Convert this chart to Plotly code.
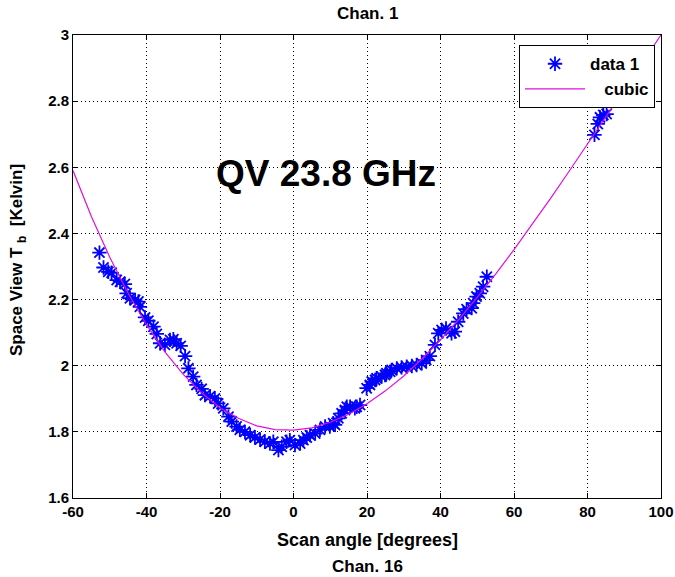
import plotly.graph_objects as go

# scanned data points (scan angle in degrees, brightness temperature in K)
data_x = [-52.8, -51.7, -50.4, -49.5, -48.1, -47.2, -45.9, -45.4, -44.5, -43.1, -42.2, -41.8,
          -40.4, -39.5, -38.1, -37.2, -36.3, -35.0, -33.6, -32.7, -31.8, -30.7, -29.5, -28.6,
          -27.3, -26.4, -25.0, -24.1, -22.7, -21.4, -20.5, -19.1, -17.7, -16.8, -15.5, -14.6,
          -13.2, -11.8, -10.5, -9.1, -7.8, -6.4, -5.5, -4.1, -3.2, -1.9, -1.0, 0.4, 1.8, 2.7,
          3.6, 4.5, 5.9, 7.2, 8.6, 9.9, 10.8, 11.3, 12.2, 13.1, 14.0, 14.5, 15.4, 16.7, 17.2,
          18.1, 19.9, 20.8, 21.3, 22.2, 22.6, 24.0, 24.9, 25.3, 26.3, 26.7, 28.1, 29.4, 30.8,
          32.2, 33.5, 34.9, 36.1, 37.1, 38.5, 39.4, 40.3, 41.5, 43.0, 43.9, 44.8, 46.2, 47.1,
          48.5, 48.9, 49.8, 50.7, 51.6, 52.6, 81.9, 82.8, 83.4, 84.3, 85.2]
data_y = [2.342, 2.297, 2.284, 2.281, 2.259, 2.254, 2.247, 2.219, 2.204, 2.199, 2.194, 2.178,
          2.146, 2.136, 2.118, 2.096, 2.068, 2.063, 2.078, 2.080, 2.068, 2.060, 2.029, 1.992,
          1.967, 1.942, 1.930, 1.911, 1.908, 1.901, 1.886, 1.871, 1.846, 1.831, 1.816, 1.806,
          1.800, 1.790, 1.783, 1.777, 1.770, 1.765, 1.770, 1.745, 1.755, 1.770, 1.775, 1.760,
          1.765, 1.775, 1.783, 1.790, 1.795, 1.806, 1.816, 1.816, 1.826, 1.821, 1.841, 1.856,
          1.866, 1.876, 1.876, 1.871, 1.876, 1.881, 1.932, 1.942, 1.952, 1.957, 1.962, 1.967,
          1.972, 1.977, 1.982, 1.987, 1.992, 1.995, 1.997, 1.999, 2.002, 2.007, 2.017, 2.029,
          2.063, 2.098, 2.108, 2.113, 2.098, 2.103, 2.133, 2.158, 2.171, 2.174, 2.189, 2.209,
          2.219, 2.239, 2.269, 2.698, 2.731, 2.751, 2.758, 2.761]

# cubic fit curve, every 5 degrees
cubic_x = [-60, -55, -50, -45, -40, -35, -30, -25, -20, -15, -10, -5, 0, 5, 10, 15, 20,
           25, 30, 35, 40, 45, 50, 55, 60, 65, 70, 75, 80, 85, 90, 95, 100]
cubic_y = [2.590, 2.451, 2.328, 2.219, 2.124, 2.042, 1.974, 1.918, 1.873, 1.841, 1.818,
           1.807, 1.805, 1.812, 1.829, 1.853, 1.885, 1.924, 1.969, 2.021, 2.078, 2.140,
           2.207, 2.277, 2.351, 2.428, 2.507, 2.588, 2.670, 2.753, 2.836, 2.919, 3.000]

x_ticks = [-60, -40, -20, 0, 20, 40, 60, 80, 100]
y_ticks = [1.6, 1.8, 2, 2.2, 2.4, 2.6, 2.8, 3]
y_tick_text = ["1.6", "1.8", "2", "2.2", "2.4", "2.6", "2.8", "3"]

FONT = "Liberation Sans, Arial, sans-serif"
NB = "\u00a0"

fig = go.Figure()
fig.add_trace(go.Scatter(
    x=data_x, y=data_y, mode="markers", name="data 1",
    marker=dict(symbol="asterisk-open", size=12, color="#0000FF",
                line=dict(color="#0000FF", width=1.8)),
))
fig.add_trace(go.Scatter(
    x=cubic_x, y=cubic_y, mode="lines", name=NB * 3 + "cubic",
    line=dict(color="#E010E0", width=1.2),
))

axis_common = dict(
    showline=True, linecolor="black", linewidth=1, mirror="ticks",
    ticks="inside", ticklen=5, tickcolor="black",
    showgrid=True, gridcolor="black", griddash="1px,3px", gridwidth=1,
    zeroline=False, automargin=False,
    tickfont=dict(family=FONT, size=15, color="black", weight="bold"),
)

fig.update_xaxes(range=[-60, 100], tickvals=x_ticks,
                 ticktext=[str(v) for v in x_ticks], **axis_common)
fig.update_yaxes(range=[1.6, 3], tickvals=y_ticks, ticktext=y_tick_text, **axis_common)

fig.update_layout(
    width=675, height=577,
    margin=dict(l=73, r=14, t=35, b=79),
    paper_bgcolor="white", plot_bgcolor="white",
    showlegend=True,
    legend=dict(x=0.9898, y=0.978, xanchor="right", yanchor="top",
                bgcolor="white", bordercolor="black", borderwidth=1,
                font=dict(family=FONT, size=17, color="black", weight="bold"),
                itemwidth=60),
    annotations=[
        dict(text="Chan. 1", x=0.5, y=1.0475, xref="paper", yref="paper",
             xanchor="center", yanchor="middle", showarrow=False,
             font=dict(family=FONT, size=17, color="black", weight="bold")),
        dict(text="Scan angle [degrees]", x=0.5, y=-0.0907, xref="paper", yref="paper",
             xanchor="center", yanchor="middle", showarrow=False,
             font=dict(family=FONT, size=18, color="black", weight="bold")),
        dict(text="Chan. 16", x=0.5, y=-0.147, xref="paper", yref="paper",
             xanchor="center", yanchor="middle", showarrow=False,
             font=dict(family=FONT, size=17, color="black", weight="bold")),
        dict(text="Space View T" + NB + "<sub>b</sub>" + NB + NB + "[Kelvin]",
             x=-0.0935, y=0.514, xref="paper", yref="paper",
             xanchor="center", yanchor="middle", textangle=-90, showarrow=False,
             font=dict(family=FONT, size=17, color="black", weight="bold")),
        dict(text="QV 23.8 GHz", x=0.4297, y=0.7019, xref="paper", yref="paper",
             xanchor="center", yanchor="middle", showarrow=False,
             font=dict(family=FONT, size=37, color="black", weight="bold")),
    ],
)

fig.write_html("out.html")
